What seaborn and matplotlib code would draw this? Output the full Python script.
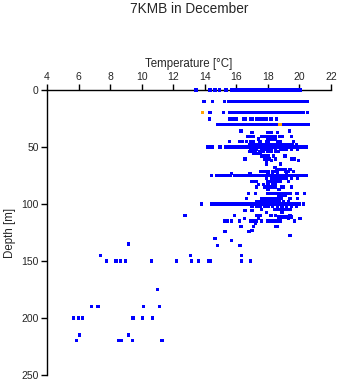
import numpy as np
import pandas as pd
import matplotlib
matplotlib.use("Agg")
import matplotlib.pyplot as plt
import seaborn as sns

# ---------------- data (temperature [°C] per depth [m]) ----------------
t_000 = [13.44, 14.33, 14.65, 14.94, 15.34, 15.70, 15.82, 15.95, 16.07, 16.19, 16.31, 16.44, 16.56,
         16.68, 16.80, 16.93, 17.05, 17.17, 17.29, 17.42, 17.54, 17.66, 17.78, 17.91, 18.03, 18.15,
         18.27, 18.40, 18.52, 18.64, 18.76, 18.89, 19.01, 19.13, 19.25, 19.38, 19.50, 19.62, 19.74,
         19.87, 20.03]
t_010 = [13.95, 14.47, 15.24, 15.50, 15.62, 15.75, 15.88, 16.01, 16.14, 16.27, 16.40, 16.53, 16.66,
         16.79, 16.92, 17.05, 17.18, 17.31, 17.44, 17.57, 17.70, 17.83, 17.96, 18.09, 18.22, 18.35,
         18.48, 18.61, 18.74, 18.87, 19.00, 19.13, 19.26, 19.39, 19.52, 19.65, 19.78, 19.91, 20.04,
         20.17, 20.30, 20.50]
t_020 = [14.33, 15.17, 15.60, 15.73, 15.86, 15.99, 16.12, 16.25, 16.38, 16.51, 16.64, 16.77, 16.90,
         17.03, 17.16, 17.29, 17.42, 17.55, 17.68, 17.81, 17.94, 18.07, 18.20, 18.33, 18.46, 18.59,
         18.72, 18.85, 18.98, 19.11, 19.24, 19.37, 19.50, 19.63, 19.76, 19.89, 20.02, 20.15, 20.28,
         20.50]
t_025 = [14.28, 15.60, 15.75, 15.90, 16.00, 16.45, 16.60, 16.90, 17.00, 17.30, 17.45, 17.60, 17.75,
         17.90, 18.20, 18.55]
t_030 = [14.80, 14.95, 15.10, 15.25, 15.40, 15.55, 15.70, 15.85, 16.00, 16.15, 16.30, 16.45, 16.60,
         16.75, 16.90, 17.05, 17.20, 17.35, 17.50, 17.65, 17.80, 17.95, 18.10, 18.25, 18.40, 18.55,
         18.90, 19.05, 19.20, 19.35, 19.50, 19.65, 19.80, 19.95, 20.10, 20.25, 20.40, 20.56]
t_036 = [16.30, 19.36]
t_037 = [17.00, 18.00, 18.20, 18.60]
t_041 = [16.70, 16.90, 17.05, 17.60, 17.75, 17.90, 18.10, 18.30, 18.45, 18.75, 18.90, 19.50]
t_043 = [17.40, 18.00, 18.20, 18.45]
t_045 = [15.55, 16.23, 16.40, 16.65, 16.90, 17.10, 17.50, 17.90, 18.05, 18.60, 18.80, 19.60]
t_047 = [16.86, 17.00, 17.15, 17.30, 17.45, 17.60, 17.75, 17.90, 18.05, 18.20, 18.35, 18.50, 18.65,
         18.80, 18.95, 19.10, 19.25, 19.40, 19.55, 19.82]
t_050 = [14.16, 14.30, 14.50, 14.96, 15.30, 15.45, 15.60, 15.75, 15.90, 16.10, 16.25, 16.40, 16.55,
         16.70, 16.85, 17.00, 17.15, 17.30, 17.45, 17.60, 17.75, 17.90, 18.05, 18.20, 18.35, 18.50,
         18.65, 18.80, 18.95, 19.10, 19.25, 19.40, 19.55, 19.70, 19.85, 20.00, 20.15, 20.30, 20.45]
t_052 = [16.90, 17.10, 17.30, 17.60, 17.80, 18.00, 18.20, 18.50, 18.80, 19.00, 19.20, 19.50, 19.90]
t_054 = [16.86, 17.00, 17.20, 17.50, 17.70, 18.00, 18.24, 18.50, 18.65]
t_056 = [17.10, 17.30, 17.50]
t_058 = [17.60, 17.80, 18.00, 18.34, 19.08]
t_060 = [16.55, 17.80, 17.95, 18.10, 18.50, 19.50, 19.70]
t_062 = [17.90, 18.25, 19.93]
t_065 = [17.92, 18.80]
t_068 = [18.45]
t_069 = [18.55, 18.70, 18.90, 19.10, 19.40]
t_071 = [17.55, 17.70, 17.85, 18.05, 18.30, 18.45, 18.60, 19.10, 19.30, 19.60]
t_073 = [15.70, 16.86, 18.00, 18.30, 18.60, 19.20]
t_075 = [14.43, 14.75, 14.95, 15.15, 15.35, 15.60, 15.90, 16.05, 16.20, 16.35, 16.50, 16.65, 16.80,
         16.95, 17.10, 17.25, 17.40, 17.55, 17.70, 17.85, 18.00, 18.15, 18.30, 18.45, 18.60, 18.75,
         18.90, 19.05, 19.20, 19.35, 19.50, 19.65, 19.80, 19.95, 20.10, 20.25, 20.45]
t_077 = [17.90, 18.24, 18.45, 18.70, 18.95, 19.20, 19.50, 19.90]
t_080 = [16.97, 17.15, 17.30, 18.00, 18.20, 18.40, 18.60, 18.76, 19.30]
t_083 = [17.40, 17.70, 18.00, 18.30, 18.50]
t_085 = [17.30, 17.80, 18.00, 18.20, 18.45, 18.85, 19.00, 19.50]
t_087 = [18.00, 18.70]
t_090 = [16.76, 17.20, 18.00, 18.20, 18.40, 18.60, 18.80, 19.00, 19.20, 19.40, 19.85, 20.30]
t_092 = [18.70, 18.90, 19.10]
t_095 = [16.65, 17.60, 17.80, 18.00, 18.20, 18.45, 18.70, 18.85, 19.40, 19.90]
t_097 = [17.30, 17.50, 17.70, 17.90, 18.10, 18.30, 18.50, 18.70, 19.00, 19.30]
t_100 = [13.80, 14.43, 14.60, 14.80, 15.00, 15.20, 15.40, 15.60, 15.80, 15.95, 16.10, 16.25, 16.40,
         16.55, 16.70, 16.85, 17.00, 17.15, 17.30, 17.45, 17.60, 17.75, 17.90, 18.05, 18.20, 18.35,
         18.50, 18.65, 18.80, 18.95, 19.10, 19.25, 19.40, 19.55, 19.70, 19.85, 20.00, 20.25]
t_102 = [17.00, 17.30, 17.50, 17.80, 18.00, 18.30, 18.60, 18.90, 19.20, 19.50, 19.80]
t_104 = [17.60, 18.40, 18.60, 18.80, 19.00, 19.20, 19.40]
t_106 = [16.55, 17.00]
t_107 = [17.90, 18.90]
t_110 = [12.74, 15.90, 17.30, 17.50, 18.20, 18.50, 19.40]
t_111 = [18.70, 18.90, 19.10, 19.30, 19.50]
t_113 = [16.50, 17.40, 19.30, 20.03]
t_115 = [15.28, 15.45, 15.70, 16.20, 16.90, 17.10, 17.30, 17.60, 18.00, 18.20, 18.40, 18.60, 18.80,
         19.70]
t_117 = [17.20]
t_120 = [16.30, 17.10, 18.50, 18.60]
t_123 = [17.00]
t_124 = [15.28, 16.80]
t_127 = [19.40]
t_130 = [14.65]
t_132 = [15.70]
t_135 = [9.15]
t_136 = [14.80, 16.23]
t_145 = [7.40, 13.10, 16.33]
t_150 = [7.78, 8.37, 8.67, 8.96, 10.60, 12.20, 13.17, 13.60, 14.27, 14.37, 16.33, 16.90]
t_175 = [11.00]
t_190 = [6.80, 7.23, 10.10, 11.12]
t_200 = [5.70, 5.99, 6.26, 9.40, 9.47, 10.04, 10.67]
t_215 = [6.05, 9.15]
t_220 = [5.86, 8.52, 8.63, 8.73, 9.41, 11.29]

depth_levels = [0, 10, 20, 25.5, 30, 36, 37.5, 41, 43, 45, 47.5, 50, 52, 54, 56, 58, 60.5, 62, 65,
                68, 69.5, 71.5, 73.5, 75, 77.5, 80, 83, 85, 87, 90.5, 92.5, 95, 97.5, 100, 102.5,
                104.5, 106, 107.5, 110, 111.5, 113, 115, 117, 120, 123, 124, 127.5, 130, 132, 135,
                136.5, 145, 150, 175, 190, 200, 215, 220]
temp_rows = [t_000, t_010, t_020, t_025, t_030, t_036, t_037, t_041, t_043, t_045, t_047, t_050,
             t_052, t_054, t_056, t_058, t_060, t_062, t_065, t_068, t_069, t_071, t_073, t_075,
             t_077, t_080, t_083, t_085, t_087, t_090, t_092, t_095, t_097, t_100, t_102, t_104,
             t_106, t_107, t_110, t_111, t_113, t_115, t_117, t_120, t_123, t_124, t_127, t_130,
             t_132, t_135, t_136, t_145, t_150, t_175, t_190, t_200, t_215, t_220]

# flagged (orange) observations
flag_temp = [13.84, 18.77]
flag_depth = [20, 30]

x_ticks = [4, 6, 8, 10, 12, 14, 16, 18, 20, 22]
y_ticks = [0, 50, 100, 150, 200, 250]

# ---------------- build table ----------------
rows = []
for d, ts in zip(depth_levels, temp_rows):
    for t in ts:
        rows.append((t, d, "good"))
for t, d in zip(flag_temp, flag_depth):
    rows.append((t, d, "flag"))
df = pd.DataFrame(rows, columns=["temp", "depth", "kind"])

# ---------------- plot ----------------
sns.set_style("white")
plt.rcParams["font.family"] = ["Liberation Sans", "DejaVu Sans"]

W, H = 341, 384
fig = plt.figure(figsize=(W / 100, H / 100), dpi=100)
ax = fig.add_axes([47 / W, 1 - 375 / H, 284 / W, 285 / H])

sns.scatterplot(data=df, x="temp", y="depth", hue="kind",
                palette={"good": "#0000ff", "flag": "#ffa500"},
                marker="s", s=5.5, linewidth=0, legend=False, ax=ax, zorder=5,
                clip_on=False)

ax.set_xlim(4, 22)
ax.set_ylim(250, 0)
ax.set_xticks(x_ticks)
ax.set_yticks(y_ticks)
ax.xaxis.tick_top()
ax.xaxis.set_label_position("top")
for s in ["right", "bottom"]:
    ax.spines[s].set_visible(False)
for s in ["left", "top"]:
    ax.spines[s].set_color("black")
    ax.spines[s].set_linewidth(1.0)
    ax.spines[s].set_zorder(1)
ax.tick_params(axis="both", direction="out", length=4, width=1, color="black",
               labelsize=7.5, pad=2)
ax.tick_params(axis="x", top=True, bottom=False)
ax.tick_params(axis="y", left=True, right=False)
ax.set_xlabel("Temperature [°C]", fontsize=8.3, labelpad=3)
ax.set_ylabel("Depth [m]", fontsize=8.3, labelpad=4)
ax.grid(False)

fig.text((47 + 331) / 2 / W, 1 - 9 / H, "7KMB in December", ha="center", va="center",
         fontsize=9.8)

fig.savefig("out.png", dpi=100)
